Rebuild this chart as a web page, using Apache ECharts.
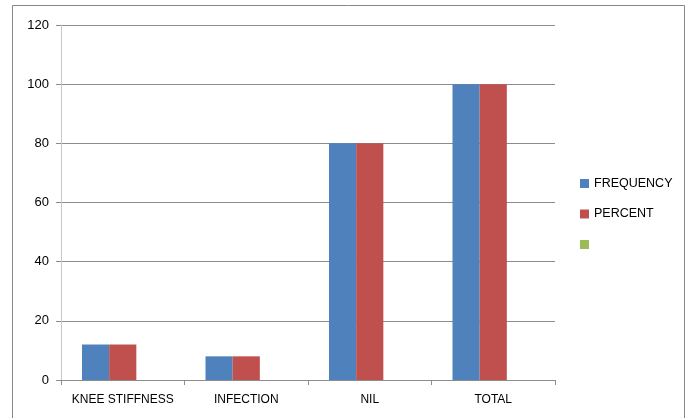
<!DOCTYPE html>
<html>
<head>
<meta charset="utf-8">
<script src="https://cdn.jsdelivr.net/npm/echarts@6/dist/echarts.min.js"></script>
<style>
  html, body { margin: 0; padding: 0; background: #fff; }
  #chart { width: 689px; height: 418px; }
</style>
</head>
<body>
<div id="chart"></div>
<script>
    // chart data
    var categories = ['KNEE STIFFNESS', 'INFECTION', 'NIL', 'TOTAL']
    var frequency = [12, 8, 80, 100]
    var percent = [12, 8, 80, 100]
    var blank = [null, null, null, null]
    var yTicks = [0, 20, 40, 60, 80, 100, 120]

    var font = 'Liberation Sans'
    var chart = echarts.init(document.getElementById('chart'))

    chart.setOption({
        animation: false,
        textStyle: { fontFamily: font },
        graphic: [{
            type: 'rect',
            shape: { x: 12.5, y: 5.5, width: 672, height: 420 },
            style: { fill: 'none', stroke: '#878787', lineWidth: 1 },
            silent: true
        }],
        grid: {
            left: 61,
            right: 134,
            top: 25,
            bottom: 38
        },
        legend: {
            orient: 'vertical',
            left: 580,
            top: 177,
            padding: 0,
            itemWidth: 9,
            itemHeight: 9,
            itemGap: 17.5,
            icon: 'rect',
            textStyle: { fontFamily: font, fontSize: 12.5, color: '#000' },
            data: ['FREQUENCY', 'PERCENT', ' ']
        },
        xAxis: {
            type: 'category',
            data: categories,
            axisLine: { lineStyle: { color: '#8c8c8c' } },
            axisTick: { show: true, length: 5, lineStyle: { color: '#8c8c8c' } },
            axisLabel: { color: '#000', fontSize: 12, margin: 14, interval: 0, fontFamily: font }
        },
        yAxis: {
            type: 'value',
            min: yTicks[0],
            max: yTicks[yTicks.length - 1],
            interval: 20,
            axisLine: { show: true, lineStyle: { color: '#c8c8c8' } },
            axisTick: { show: true, length: 5, lineStyle: { color: '#8c8c8c' } },
            axisLabel: { color: '#000', fontSize: 13, margin: 12, fontFamily: font },
            splitLine: { lineStyle: { color: '#8c8c8c' } }
        },
        series: [
            {
                name: 'FREQUENCY',
                type: 'bar',
                data: frequency,
                barGap: '0%',
                barCategoryGap: '34%',
                itemStyle: { color: '#4f81bd' }
            },
            {
                name: 'PERCENT',
                type: 'bar',
                data: percent,
                barGap: '0%',
                barCategoryGap: '34%',
                itemStyle: { color: '#c0504d' }
            },
            {
                name: ' ',
                type: 'bar',
                data: blank,
                barGap: '0%',
                barCategoryGap: '34%',
                itemStyle: { color: '#9bbb59' }
            }
        ]
    })
</script>
</body>
</html>
